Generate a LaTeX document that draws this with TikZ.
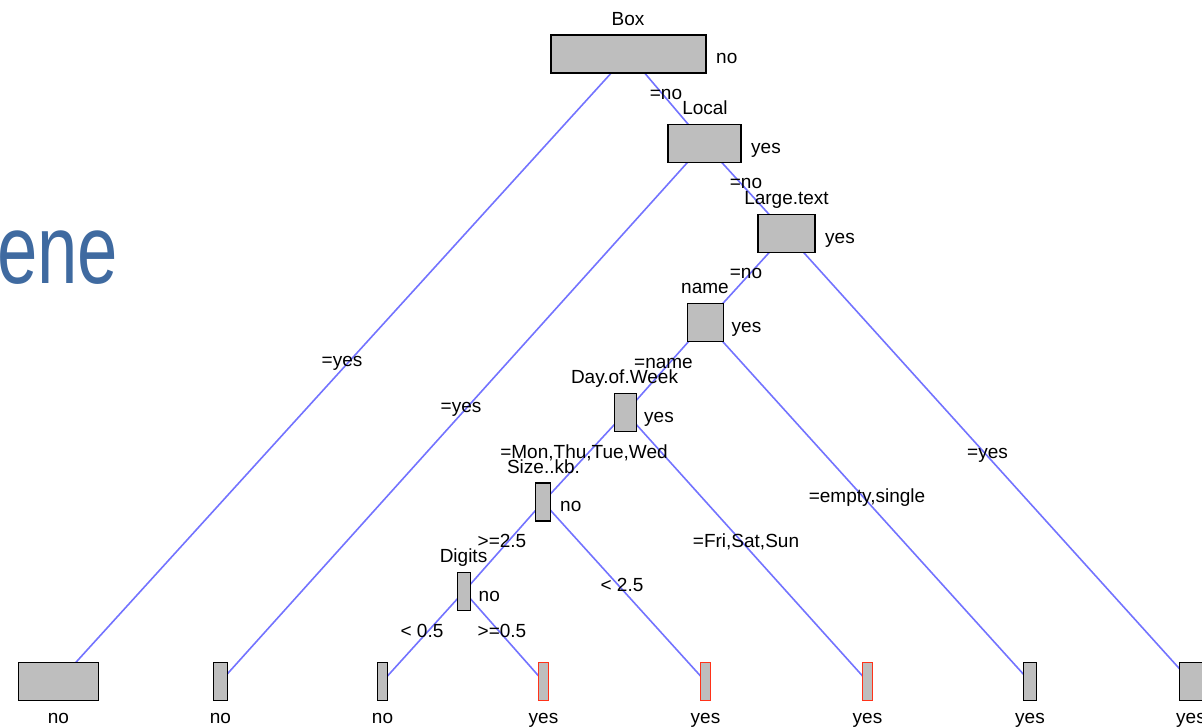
\documentclass[tikz,border=0pt]{standalone}
\usepackage{fontspec}
\setmainfont{Liberation Sans}
\pgfdeclarelayer{bg}
\pgfsetlayers{bg,main}
\definecolor{boxgray}{RGB}{190,190,190}
\definecolor{edgeblue}{RGB}{115,115,255}
\definecolor{leafred}{RGB}{255,50,25}
\definecolor{titleblue}{RGB}{63,106,160}
\tikzset{
  treebox/.style={rectangle, draw=black, line width=1.8pt, fill=boxgray, minimum height=38pt, inner sep=0pt},
  redbox/.style={treebox, draw=leafred},
  edge/.style={draw=edgeblue, line width=1.6pt},
  txt/.style={inner sep=0pt, anchor=base, font=\fontsize{19}{22}\selectfont},
  rtxt/.style={txt, anchor=base west},
}
\begin{document}
\begin{tikzpicture}[x=1pt,y=-1pt]
\useasboundingbox (0,0) rectangle (1202,728);
% slide title fragment
\node[inner sep=0pt, anchor=base west, xscale=0.74, text=titleblue, font=\fontsize{98}{100}\selectfont] (title) at (-3,283) {ene};

% internal nodes
\node[treebox, minimum width=155pt] (box) at (628.5,54) {};
\node[treebox, minimum width=73.5pt] (local) at (704.5,143.5) {};
\node[treebox, minimum width=57.5pt] (large) at (786.5,233.5) {};
\node[treebox, minimum width=36pt] (name) at (705.5,322.5) {};
\node[treebox, minimum width=22pt] (day) at (625.5,412.5) {};
\node[treebox, minimum width=15pt] (size) at (543,502) {};
\node[treebox, minimum width=13pt] (digits) at (464,591.5) {};

% leaves
\node[treebox, minimum width=80pt] (l1) at (58.5,681.5) {};
\node[treebox, minimum width=14pt] (l2) at (220.5,681.5) {};
\node[treebox, minimum width=10pt] (l3) at (382.5,681.5) {};
\node[redbox, minimum width=10pt] (l4) at (543.5,681.5) {};
\node[redbox, minimum width=10pt] (l5) at (705.5,681.5) {};
\node[redbox, minimum width=10pt] (l6) at (867.5,681.5) {};
\node[treebox, minimum width=13pt] (l7) at (1030,681.5) {};
\node[treebox, minimum width=23pt] (l8) at (1191,681.5) {};

% edges
\begin{pgfonlayer}{bg}
\draw[edge] (box.center) -- (l1.center);
\draw[edge] (box.center) -- (local.center);
\draw[edge] (local.center) -- (l2.center);
\draw[edge] (local.center) -- (large.center);
\draw[edge] (large.center) -- (name.center);
\draw[edge] (large.center) -- (l8.center);
\draw[edge] (name.center) -- (day.center);
\draw[edge] (name.center) -- (l7.center);
\draw[edge] (day.center) -- (size.center);
\draw[edge] (day.center) -- (l6.center);
\draw[edge] (size.center) -- (digits.center);
\draw[edge] (size.center) -- (l5.center);
\draw[edge] (digits.center) -- (l3.center);
\draw[edge] (digits.center) -- (l4.center);
\end{pgfonlayer}

% variable names above boxes
\node[txt] (tbox) at (628,25) {Box};
\node[txt] (tlocal) at (705,114.5) {Local};
\node[txt] (tlarge) at (786.5,204.5) {Large.text};
\node[txt] (tname) at (705,293.5) {name};
\node[txt] (tday) at (624.5,383.5) {Day.of.Week};
\node[txt] (tsize) at (543.5,473) {Size..kb.};
\node[txt] (tdigits) at (463.5,562.5) {Digits};

% class labels right of boxes
\node[rtxt] (cbox) at (716,63.5) {no};
\node[rtxt] (clocal) at (751,153) {yes};
\node[rtxt] (clarge) at (825,243) {yes};
\node[rtxt] (cname) at (731.5,332) {yes};
\node[rtxt] (cday) at (644,422) {yes};
\node[rtxt] (csize) at (560,511.5) {no};
\node[rtxt] (cdigits) at (478.5,601) {no};

% leaf labels
\node[txt] (cl1) at (58.5,723) {no};
\node[txt] (cl2) at (220.5,723) {no};
\node[txt] (cl3) at (382.5,723) {no};
\node[txt] (cl4) at (543.5,723) {yes};
\node[txt] (cl5) at (705.5,723) {yes};
\node[txt] (cl6) at (867.5,723) {yes};
\node[txt] (cl7) at (1030,723) {yes};
\node[txt] (cl8) at (1191,723) {yes};

% edge labels
\node[txt] (e1) at (342,366) {=yes};
\node[txt] (e2) at (666,99) {=no};
\node[txt] (e3) at (461,412) {=yes};
\node[txt] (e4) at (746,188) {=no};
\node[txt] (e5) at (746,278) {=no};
\node[txt] (e6) at (987.5,458) {=yes};
\node[txt] (e7) at (663.5,368) {=name};
\node[txt] (e8) at (867,502) {=empty,single};
\node[txt] (e9) at (584,458) {=Mon,Thu,Tue,Wed};
\node[txt] (e10) at (746,547) {=Fri,Sat,Sun};
\node[txt] (e11) at (502,547) {>=2.5};
\node[txt] (e12) at (622,591) {< 2.5};
\node[txt] (e13) at (422,637) {< 0.5};
\node[txt] (e14) at (502,637) {>=0.5};
\end{tikzpicture}
\end{document}
